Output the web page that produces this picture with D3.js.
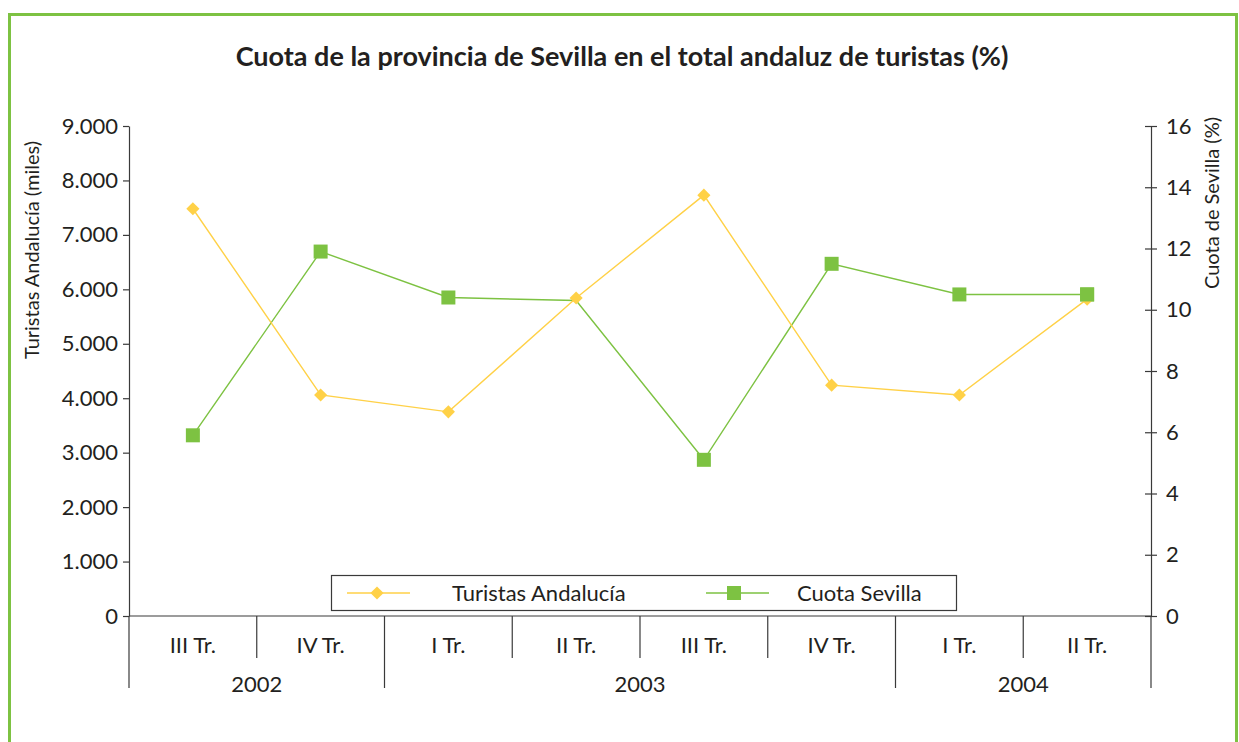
<!DOCTYPE html>
<html>
<head>
<meta charset="utf-8">
<script src="https://cdn.jsdelivr.net/npm/d3@7"></script>
<style>
  body { margin: 0; background: #fff; }
  svg text { font-family: Lato, "Open Sans", sans-serif; fill: #231f20; }
</style>
</head>
<body>
<div class="chart"></div>
<script>
// data
var quarters = ["III Tr.", "IV Tr.", "I Tr.", "II Tr.", "III Tr.", "IV Tr.", "I Tr.", "II Tr."];
var years = ["2002", "2003", "2004"];
var yearSpans = [2, 4, 2]; // quarters per year
var turistas = [7480, 4060, 3750, 5840, 7730, 4240, 4060, 5820];
var cuota = [5.9, 11.9, 10.4, 10.3, 5.1, 11.5, 10.5, 10.5];
var leftTicks = [0, 1000, 2000, 3000, 4000, 5000, 6000, 7000, 8000, 9000];
var rightTicks = [0, 2, 4, 6, 8, 10, 12, 14, 16];

var svgWidth = 1239;
var svgHeight = 742;

var yellow = "#ffd147";
var green = "#7dc242";
var axisColor = "#3a3a3a";

var svg = d3.select(".chart")
  .append("svg")
  .attr("width", svgWidth)
  .attr("height", svgHeight);

// green frame
svg.append("rect")
  .attr("x", 9.5)
  .attr("y", 14.5)
  .attr("width", 1227)
  .attr("height", 780)
  .attr("fill", "none")
  .attr("stroke", green)
  .attr("stroke-width", 3);

// title
svg.append("text")
  .attr("x", 622)
  .attr("y", 66)
  .attr("text-anchor", "middle")
  .style("font-size", "27px")
  .style("font-weight", "bold")
  .text("Cuota de la provincia de Sevilla en el total andaluz de turistas (%)");

var plotLeft = 129, plotRight = 1151, plotTop = 126, plotBottom = 616;

var x = d3.scaleBand()
  .domain(d3.range(quarters.length))
  .range([plotLeft, plotRight]);

var yLeft = d3.scaleLinear().domain([0, 9000]).range([plotBottom, plotTop]);
var yRight = d3.scaleLinear().domain([0, 16]).range([plotBottom, plotTop]);

// left axis
var leftAxis = d3.axisLeft(yLeft)
  .tickValues(leftTicks)
  .tickSizeOuter(0)
  .tickSizeInner(6)
  .tickPadding(5)
  .tickFormat(function(d) { return d3.format(",")(d).replace(",", "."); });

var gLeft = svg.append("g")
  .attr("transform", `translate(${plotLeft},0)`)
  .call(leftAxis);
gLeft.selectAll("text").style("font-size", "22px");

// right axis, ticks cross the line
var rightAxis = d3.axisRight(yRight)
  .tickValues(rightTicks)
  .tickSizeOuter(0)
  .tickSizeInner(6)
  .tickPadding(9);

var gRight = svg.append("g")
  .attr("transform", `translate(${plotRight},0)`)
  .call(rightAxis);
gRight.selectAll(".tick line").attr("x1", -6);
gRight.selectAll("text").style("font-size", "22px");

svg.selectAll(".domain, .tick line").attr("stroke", axisColor).attr("stroke-width", 1.2);
svg.selectAll(".tick text").attr("fill", "#231f20");

// x axis line
svg.append("line")
  .attr("x1", plotLeft).attr("x2", plotRight)
  .attr("y1", plotBottom).attr("y2", plotBottom)
  .attr("stroke", axisColor).attr("stroke-width", 1.2);

// quarter separators and labels
var yearStarts = [0];
yearSpans.forEach(function(s, i) { yearStarts.push(yearStarts[i] + s); });

svg.selectAll(".qtick")
  .data(d3.range(1, quarters.length).filter(function(i) { return yearStarts.indexOf(i) < 0; }))
  .enter()
  .append("line")
  .attr("x1", d => x(d)).attr("x2", d => x(d))
  .attr("y1", plotBottom).attr("y2", 658)
  .attr("stroke", axisColor).attr("stroke-width", 1.2);

svg.selectAll(".ytick")
  .data(yearStarts)
  .enter()
  .append("line")
  .attr("x1", d => d < quarters.length ? x(d) : plotRight)
  .attr("x2", d => d < quarters.length ? x(d) : plotRight)
  .attr("y1", plotBottom).attr("y2", 688)
  .attr("stroke", axisColor).attr("stroke-width", 1.2);

svg.selectAll(".qlabel")
  .data(quarters)
  .enter()
  .append("text")
  .attr("x", (d, i) => x(i) + x.bandwidth() / 2)
  .attr("y", 653)
  .attr("text-anchor", "middle")
  .style("font-size", "22px")
  .text(d => d);

svg.selectAll(".ylabel")
  .data(years)
  .enter()
  .append("text")
  .attr("x", (d, i) => x(yearStarts[i]) + yearSpans[i] * x.bandwidth() / 2)
  .attr("y", 692)
  .attr("text-anchor", "middle")
  .style("font-size", "22px")
  .text(d => d);

// axis titles
svg.append("text")
  .attr("transform", "translate(39,250) rotate(-90)")
  .attr("text-anchor", "middle")
  .style("font-size", "20px")
  .text("Turistas Andalucía (miles)");

svg.append("text")
  .attr("transform", "translate(1219,203) rotate(-90)")
  .attr("text-anchor", "middle")
  .style("font-size", "20px")
  .text("Cuota de Sevilla (%)");

var cx = function(i) { return x(i) + x.bandwidth() / 2; };

// green series (no marker shows at II Tr. 2003 in the original)
var lineRight = d3.line().x((d, i) => cx(i)).y(d => yRight(d));
svg.append("path")
  .datum(cuota)
  .attr("d", lineRight)
  .attr("fill", "none")
  .attr("stroke", green)
  .attr("stroke-width", 1.4);

var cuotaPts = cuota.map(function(v, i) { return { v: v, i: i }; })
  .filter(function(d) { return d.i !== 3; });

svg.selectAll(".sq")
  .data(cuotaPts)
  .enter()
  .append("rect")
  .attr("x", d => cx(d.i) - 7)
  .attr("y", d => yRight(d.v) - 7)
  .attr("width", 14)
  .attr("height", 14)
  .attr("fill", green);

// yellow series
var lineLeft = d3.line().x((d, i) => cx(i)).y(d => yLeft(d));
svg.append("path")
  .datum(turistas)
  .attr("d", lineLeft)
  .attr("fill", "none")
  .attr("stroke", yellow)
  .attr("stroke-width", 1.4);

var diamond = d3.symbol().type(d3.symbolDiamond2).size(110);
svg.selectAll(".dm")
  .data(turistas)
  .enter()
  .append("path")
  .attr("d", diamond)
  .attr("transform", (d, i) => `translate(${cx(i)},${yLeft(d)})`)
  .attr("fill", yellow);

// the last green square sits on top of the diamond in the original
svg.selectAll(".sqTop")
  .data(cuotaPts.filter(d => d.i === cuota.length - 1))
  .enter()
  .append("rect")
  .attr("x", d => cx(d.i) - 7)
  .attr("y", d => yRight(d.v) - 7)
  .attr("width", 14)
  .attr("height", 14)
  .attr("fill", green);

// legend
var legend = svg.append("g");
legend.append("rect")
  .attr("x", 331.5).attr("y", 575.5)
  .attr("width", 625).attr("height", 35)
  .attr("fill", "#fff")
  .attr("stroke", axisColor).attr("stroke-width", 1.2);

legend.append("line")
  .attr("x1", 347).attr("x2", 410).attr("y1", 593).attr("y2", 593)
  .attr("stroke", yellow).attr("stroke-width", 1.4);
legend.append("path")
  .attr("d", diamond)
  .attr("transform", "translate(377,593)")
  .attr("fill", yellow);
legend.append("text")
  .attr("x", 452).attr("y", 601)
  .style("font-size", "22px")
  .text("Turistas Andalucía");

legend.append("line")
  .attr("x1", 706).attr("x2", 769).attr("y1", 593).attr("y2", 593)
  .attr("stroke", green).attr("stroke-width", 1.4);
legend.append("rect")
  .attr("x", 727).attr("y", 586).attr("width", 14).attr("height", 14)
  .attr("fill", green);
legend.append("text")
  .attr("x", 797).attr("y", 601)
  .style("font-size", "22px")
  .text("Cuota Sevilla");
</script>
</body>
</html>
